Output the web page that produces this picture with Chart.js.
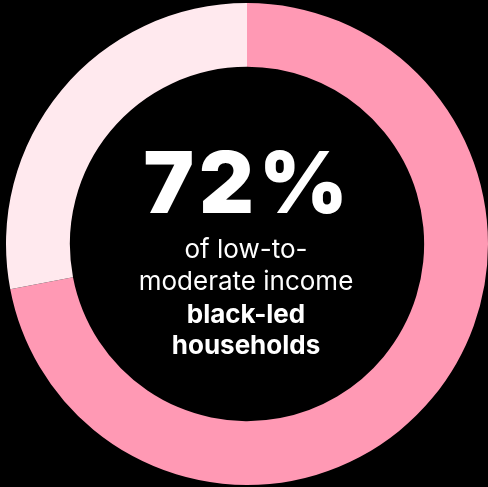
<!DOCTYPE html>
<html>
<head>
<meta charset="utf-8">
<script src="https://cdn.jsdelivr.net/npm/chart.js@4.4.0/dist/chart.umd.min.js"></script>
<style>
  html, body { margin: 0; padding: 0; background: #000; }
  #wrap { width: 488px; height: 487px; }
</style>
</head>
<body>
<div id="wrap"><canvas id="myChart" width="488" height="487"></canvas></div>
<script>
const labels = ["Black-led households", "Other"];
const values = [72, 28];
const colors = ["#FF99B4", "#FFE9EE"];
const bigText = "72%";
const lines = [
  { text: "of low-to-", bold: false },
  { text: "moderate income", bold: false },
  { text: "black-led", bold: true },
  { text: "households", bold: true },
];

// draws the center label
const centerText = {
  id: "centerText",
  afterDraw(chart) {
    const c = chart.ctx;
    const x = (chart.chartArea.left + chart.chartArea.right) / 2 - 1;
    c.save();
    c.fillStyle = "#fff";
    c.textAlign = "center";
    c.textBaseline = "alphabetic";
    c.font = "900 85px Inter";
    c.letterSpacing = "5px";
    c.fillText(bigText, x + 2, 213);
    c.letterSpacing = "0px";
    const baselines = [258, 290, 323, 354];
    lines.forEach((l, i) => {
      c.font = (l.bold ? "700 " : "400 ") + "26px Inter";
      c.fillText(l.text, x, baselines[i]);
    });
    c.restore();
  },
};

const ctx = document.getElementById("myChart").getContext("2d");
const myChart = new Chart(ctx, {
  type: "doughnut",
  data: {
    labels: labels,
    datasets: [
      {
        data: values,
        backgroundColor: colors,
        borderWidth: 0,
      },
    ],
  },
  options: {
    responsive: false,
    animation: false,
    cutout: "73.5%",
    layout: { padding: { left: 6, top: 1 } },
    plugins: {
      legend: { display: false },
      tooltip: { enabled: false },
    },
  },
  plugins: [centerText],
});
</script>
</body>
</html>
